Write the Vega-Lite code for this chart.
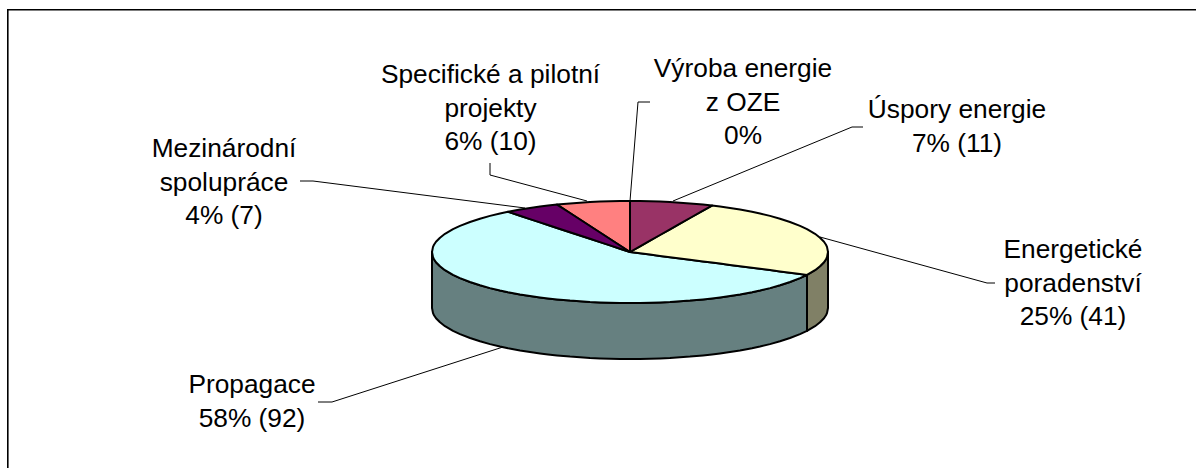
{"$schema":"https://vega.github.io/schema/vega-lite/v6.json","width":1196,"height":468,"padding":0,"autosize":"none","background":"white","view":{"stroke":null},
"datasets":{
"plochy":[
{"part":"Propagace bok","x":432,"y":252,"y2":308},{"part":"Propagace bok","x":433,"y":257.1,"y2":313.1},{"part":"Propagace bok","x":434,"y":259.2,"y2":315.2},{"part":"Propagace bok","x":436,"y":262.2,"y2":318.2},{"part":"Propagace bok","x":440,"y":266.3,"y2":322.3},{"part":"Propagace bok","x":445,"y":270.2,"y2":326.2},{"part":"Propagace bok","x":453,"y":274.9,"y2":330.9},{"part":"Propagace bok","x":460,"y":278.1,"y2":334.1},{"part":"Propagace bok","x":470,"y":282,"y2":338},{"part":"Propagace bok","x":480,"y":285.3,"y2":341.3},{"part":"Propagace bok","x":490,"y":288.1,"y2":344.1},{"part":"Propagace bok","x":500,"y":290.5,"y2":346.5},{"part":"Propagace bok","x":508,"y":292.2,"y2":348.2},{"part":"Propagace bok","x":520,"y":294.4,"y2":350.4},{"part":"Propagace bok","x":530,"y":296,"y2":352},{"part":"Propagace bok","x":540,"y":297.4,"y2":353.4},{"part":"Propagace bok","x":548,"y":298.4,"y2":354.4},{"part":"Propagace bok","x":557,"y":299.4,"y2":355.4},{"part":"Propagace bok","x":570,"y":300.6,"y2":356.6},{"part":"Propagace bok","x":580,"y":301.3,"y2":357.3},{"part":"Propagace bok","x":590,"y":302,"y2":358},{"part":"Propagace bok","x":600,"y":302.4,"y2":358.4},{"part":"Propagace bok","x":610,"y":302.7,"y2":358.7},{"part":"Propagace bok","x":620,"y":302.9,"y2":358.9},{"part":"Propagace bok","x":630,"y":303,"y2":359},{"part":"Propagace bok","x":640,"y":302.9,"y2":358.9},{"part":"Propagace bok","x":650,"y":302.7,"y2":358.7},{"part":"Propagace bok","x":660,"y":302.4,"y2":358.4},{"part":"Propagace bok","x":670,"y":302,"y2":358},{"part":"Propagace bok","x":680,"y":301.3,"y2":357.3},{"part":"Propagace bok","x":690,"y":300.6,"y2":356.6},{"part":"Propagace bok","x":703,"y":299.4,"y2":355.4},{"part":"Propagace bok","x":712,"y":298.4,"y2":354.4},{"part":"Propagace bok","x":720,"y":297.4,"y2":353.4},{"part":"Propagace bok","x":730,"y":296,"y2":352},{"part":"Propagace bok","x":740,"y":294.4,"y2":350.4},{"part":"Propagace bok","x":752,"y":292.2,"y2":348.2},{"part":"Propagace bok","x":760,"y":290.5,"y2":346.5},{"part":"Propagace bok","x":770,"y":288.1,"y2":344.1},{"part":"Propagace bok","x":780,"y":285.3,"y2":341.3},{"part":"Propagace bok","x":790,"y":282,"y2":338},{"part":"Propagace bok","x":800,"y":278.1,"y2":334.1},{"part":"Propagace bok","x":807,"y":274.9,"y2":330.9},
{"part":"Poradenství bok","x":807,"y":274.9,"y2":330.9},{"part":"Poradenství bok","x":815,"y":270.2,"y2":326.2},{"part":"Poradenství bok","x":820,"y":266.3,"y2":322.3},{"part":"Poradenství bok","x":824,"y":262.2,"y2":318.2},{"part":"Poradenství bok","x":826,"y":259.2,"y2":315.2},{"part":"Poradenství bok","x":827,"y":257.1,"y2":313.1},{"part":"Poradenství bok","x":828,"y":252,"y2":308},
{"part":"Propagace","x":432,"y":252,"y2":252},{"part":"Propagace","x":433,"y":246.9,"y2":257.1},{"part":"Propagace","x":434,"y":244.8,"y2":259.2},{"part":"Propagace","x":436,"y":241.8,"y2":262.2},{"part":"Propagace","x":440,"y":237.7,"y2":266.3},{"part":"Propagace","x":445,"y":233.8,"y2":270.2},{"part":"Propagace","x":453,"y":229.1,"y2":274.9},{"part":"Propagace","x":460,"y":225.9,"y2":278.1},{"part":"Propagace","x":470,"y":222,"y2":282},{"part":"Propagace","x":480,"y":218.7,"y2":285.3},{"part":"Propagace","x":490,"y":215.9,"y2":288.1},{"part":"Propagace","x":500,"y":213.5,"y2":290.5},{"part":"Propagace","x":508,"y":211.8,"y2":292.2},{"part":"Propagace","x":520,"y":215.8,"y2":294.4},{"part":"Propagace","x":530,"y":219.1,"y2":296},{"part":"Propagace","x":540,"y":222.4,"y2":297.4},{"part":"Propagace","x":548,"y":225,"y2":298.4},{"part":"Propagace","x":557,"y":228,"y2":299.4},{"part":"Propagace","x":570,"y":232.2,"y2":300.6},{"part":"Propagace","x":580,"y":235.5,"y2":301.3},{"part":"Propagace","x":590,"y":238.8,"y2":302},{"part":"Propagace","x":600,"y":242.1,"y2":302.4},{"part":"Propagace","x":610,"y":245.4,"y2":302.7},{"part":"Propagace","x":620,"y":248.7,"y2":302.9},{"part":"Propagace","x":630,"y":252,"y2":303},{"part":"Propagace","x":640,"y":253.3,"y2":302.9},{"part":"Propagace","x":650,"y":254.6,"y2":302.7},{"part":"Propagace","x":660,"y":255.9,"y2":302.4},{"part":"Propagace","x":670,"y":257.2,"y2":302},{"part":"Propagace","x":680,"y":258.5,"y2":301.3},{"part":"Propagace","x":690,"y":259.8,"y2":300.6},{"part":"Propagace","x":703,"y":261.4,"y2":299.4},{"part":"Propagace","x":712,"y":262.6,"y2":298.4},{"part":"Propagace","x":720,"y":263.6,"y2":297.4},{"part":"Propagace","x":730,"y":264.9,"y2":296},{"part":"Propagace","x":740,"y":266.2,"y2":294.4},{"part":"Propagace","x":752,"y":267.8,"y2":292.2},{"part":"Propagace","x":760,"y":268.8,"y2":290.5},{"part":"Propagace","x":770,"y":270.1,"y2":288.1},{"part":"Propagace","x":780,"y":271.4,"y2":285.3},{"part":"Propagace","x":790,"y":272.7,"y2":282},{"part":"Propagace","x":800,"y":274,"y2":278.1},{"part":"Propagace","x":807,"y":274.9,"y2":274.9},
{"part":"Poradenství","x":630,"y":252,"y2":252},{"part":"Poradenství","x":640,"y":246.3,"y2":253.3},{"part":"Poradenství","x":650,"y":240.7,"y2":254.6},{"part":"Poradenství","x":660,"y":235,"y2":255.9},{"part":"Poradenství","x":670,"y":229.4,"y2":257.2},{"part":"Poradenství","x":680,"y":223.7,"y2":258.5},{"part":"Poradenství","x":690,"y":218,"y2":259.8},{"part":"Poradenství","x":703,"y":210.7,"y2":261.4},{"part":"Poradenství","x":712,"y":205.6,"y2":262.6},{"part":"Poradenství","x":720,"y":206.6,"y2":263.6},{"part":"Poradenství","x":730,"y":208,"y2":264.9},{"part":"Poradenství","x":740,"y":209.6,"y2":266.2},{"part":"Poradenství","x":752,"y":211.8,"y2":267.8},{"part":"Poradenství","x":760,"y":213.5,"y2":268.8},{"part":"Poradenství","x":770,"y":215.9,"y2":270.1},{"part":"Poradenství","x":780,"y":218.7,"y2":271.4},{"part":"Poradenství","x":790,"y":222,"y2":272.7},{"part":"Poradenství","x":800,"y":225.9,"y2":274},{"part":"Poradenství","x":807,"y":229.1,"y2":274.9},{"part":"Poradenství","x":815,"y":233.8,"y2":270.2},{"part":"Poradenství","x":820,"y":237.7,"y2":266.3},{"part":"Poradenství","x":824,"y":241.8,"y2":262.2},{"part":"Poradenství","x":826,"y":244.8,"y2":259.2},{"part":"Poradenství","x":827,"y":246.9,"y2":257.1},{"part":"Poradenství","x":828,"y":252,"y2":252},
{"part":"Úspory","x":630,"y":201,"y2":252},{"part":"Úspory","x":640,"y":201.1,"y2":246.3},{"part":"Úspory","x":650,"y":201.3,"y2":240.7},{"part":"Úspory","x":660,"y":201.6,"y2":235},{"part":"Úspory","x":670,"y":202,"y2":229.4},{"part":"Úspory","x":680,"y":202.7,"y2":223.7},{"part":"Úspory","x":690,"y":203.4,"y2":218},{"part":"Úspory","x":703,"y":204.6,"y2":210.7},{"part":"Úspory","x":712,"y":205.6,"y2":205.6},
{"part":"Specifické","x":557,"y":204.6,"y2":204.6},{"part":"Specifické","x":570,"y":203.4,"y2":213},{"part":"Specifické","x":580,"y":202.7,"y2":219.5},{"part":"Specifické","x":590,"y":202,"y2":226},{"part":"Specifické","x":600,"y":201.6,"y2":232.5},{"part":"Specifické","x":610,"y":201.3,"y2":239},{"part":"Specifické","x":620,"y":201.1,"y2":245.5},{"part":"Specifické","x":630,"y":201,"y2":252},
{"part":"Mezinárodní","x":508,"y":211.8,"y2":211.8},{"part":"Mezinárodní","x":520,"y":209.6,"y2":215.8},{"part":"Mezinárodní","x":530,"y":208,"y2":219.1},{"part":"Mezinárodní","x":540,"y":206.6,"y2":222.4},{"part":"Mezinárodní","x":548,"y":205.6,"y2":225},{"part":"Mezinárodní","x":557,"y":204.6,"y2":228},{"part":"Mezinárodní","x":570,"y":213,"y2":232.2},{"part":"Mezinárodní","x":580,"y":219.5,"y2":235.5},{"part":"Mezinárodní","x":590,"y":226,"y2":238.8},{"part":"Mezinárodní","x":600,"y":232.5,"y2":242.1},{"part":"Mezinárodní","x":610,"y":239,"y2":245.4},{"part":"Mezinárodní","x":620,"y":245.5,"y2":248.7},{"part":"Mezinárodní","x":630,"y":252,"y2":252}
],
"vodici":[
{"g":"Výroba","i":1,"x":630,"y":201},{"g":"Výroba","i":2,"x":638,"y":102},{"g":"Výroba","i":3,"x":650,"y":102},
{"g":"Specifické","i":1,"x":490,"y":163},{"g":"Specifické","i":2,"x":490,"y":175},{"g":"Specifické","i":3,"x":587,"y":201},
{"g":"Mezinárodní","i":1,"x":300,"y":181},{"g":"Mezinárodní","i":2,"x":313,"y":181},{"g":"Mezinárodní","i":3,"x":525,"y":208},
{"g":"Úspory","i":1,"x":673,"y":201},{"g":"Úspory","i":2,"x":852,"y":127},{"g":"Úspory","i":3,"x":863,"y":127},
{"g":"Poradenství","i":1,"x":820,"y":237},{"g":"Poradenství","i":2,"x":987,"y":283},{"g":"Poradenství","i":3,"x":995,"y":283},
{"g":"Propagace","i":1,"x":318,"y":402},{"g":"Propagace","i":2,"x":332,"y":402},{"g":"Propagace","i":3,"x":503,"y":347}
],
"ramecek":[{"i":1,"x":1196,"y":9.8},{"i":2,"x":7.8,"y":9.8},{"i":3,"x":7.8,"y":468}],
"popisky":[
{"obor":"Výroba energie z OZE","podil":0,"pocet":0,"label":"Výroba energie\nz OZE\n0%","x":743,"y":77},
{"obor":"Úspory energie","podil":7,"pocet":11,"label":"Úspory energie\n7% (11)","x":957,"y":118},
{"obor":"Energetické poradenství","podil":25,"pocet":41,"label":"Energetické\nporadenství\n25% (41)","x":1073,"y":258},
{"obor":"Propagace","podil":58,"pocet":92,"label":"Propagace\n58% (92)","x":252,"y":393},
{"obor":"Mezinárodní spolupráce","podil":4,"pocet":7,"label":"Mezinárodní\nspolupráce\n4% (7)","x":224,"y":157},
{"obor":"Specifické a pilotní projekty","podil":6,"pocet":10,"label":"Specifické a pilotní\nprojekty\n6% (10)","x":490.5,"y":83}
]},
"encoding":{
"x":{"field":"x","type":"quantitative","scale":{"domain":[0,1196]},"axis":null},
"y":{"field":"y","type":"quantitative","scale":{"domain":[468,0]},"axis":null}},
"layer":[
{"data":{"name":"ramecek"},"mark":{"type":"line","color":"#000000","strokeWidth":1.6,"strokeJoin":"miter"},"encoding":{"order":{"field":"i"}}},
{"data":{"name":"plochy"},"mark":{"type":"area","stroke":"#000000","strokeWidth":2,"strokeJoin":"round","orient":"vertical"},
"encoding":{"y2":{"field":"y2"},"fill":{"field":"part","type":"nominal","legend":null,"scale":{"domain":["Propagace bok","Poradenství bok","Propagace","Poradenství","Úspory","Specifické","Mezinárodní"],"range":["#668080","#808066","#CCFFFF","#FFFFCC","#993366","#FF8080","#660066"]}}}},
{"data":{"name":"vodici"},"mark":{"type":"line","color":"#000000","strokeWidth":1},"encoding":{"detail":{"field":"g"},"order":{"field":"i"}}},
{"data":{"name":"popisky"},"mark":{"type":"text","font":"Liberation Sans","fontSize":26.3,"lineHeight":33.5,"lineBreak":"\n","align":"center","baseline":"alphabetic","color":"#000000"},"encoding":{"text":{"field":"label"}}}
]}
